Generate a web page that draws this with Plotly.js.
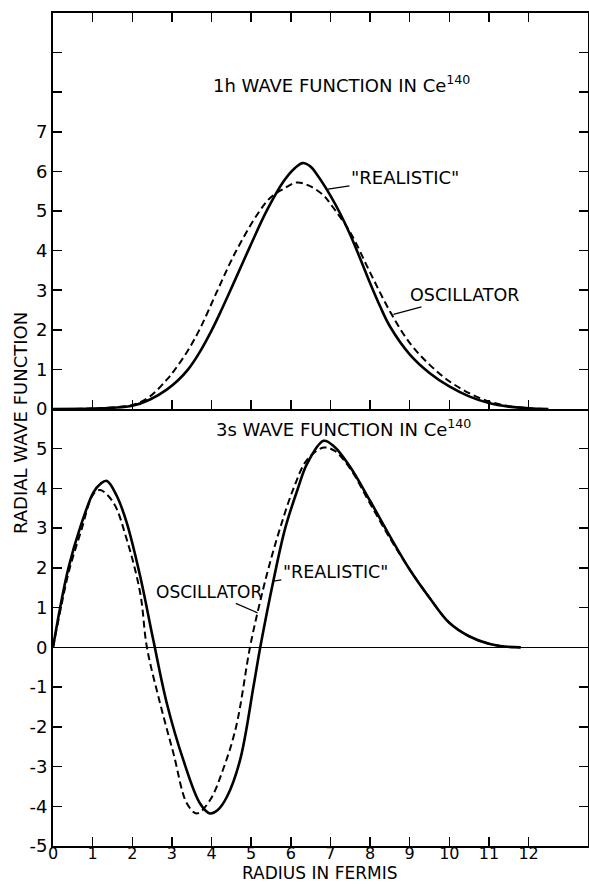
<!DOCTYPE html>
<html>
<head>
<meta charset="utf-8">
<script src="https://cdn.plot.ly/plotly-3.0.1.min.js"></script>
<style>html,body{margin:0;padding:0;background:#fff;}#chart{width:589px;height:884px;}</style>
</head>
<body>
<div id="chart"></div>
<script>
// ---- data ----
// 1h wave function, "realistic" (solid)
var r1hReal = [0, 1, 1.5, 2, 2.45, 2.87, 3.15, 3.41, 3.71, 4.0, 4.25, 4.55, 4.97, 5.4, 5.82, 6.1, 6.3, 6.5, 6.66, 7.0, 7.25, 7.5, 7.75, 8.0, 8.25, 8.5, 9.0, 9.5, 10.0, 10.5, 11.0, 11.5, 12.0, 12.5];
var v1hReal = [0, 0.01, 0.03, 0.08, 0.24, 0.49, 0.72, 1.0, 1.45, 1.98, 2.5, 3.16, 4.1, 5.02, 5.75, 6.08, 6.21, 6.12, 5.92, 5.39, 4.93, 4.4, 3.8, 3.18, 2.6, 2.09, 1.38, 0.91, 0.57, 0.32, 0.15, 0.06, 0.02, 0];
// 1h wave function, oscillator (dashed)
var r1hOsc = [0, 1, 1.5, 2.03, 2.45, 2.87, 3.08, 3.4, 3.72, 4.13, 4.6, 5.18, 5.5, 5.82, 6.15, 6.5, 6.83, 7.0, 7.5, 8.0, 8.5, 9.0, 9.5, 10.0, 10.5, 11.0, 11.5, 12.0, 12.5];
var v1hOsc = [0, 0.01, 0.04, 0.11, 0.32, 0.74, 1.0, 1.47, 2.05, 2.95, 3.95, 4.95, 5.35, 5.56, 5.72, 5.62, 5.39, 5.18, 4.46, 3.45, 2.47, 1.67, 1.12, 0.7, 0.4, 0.19, 0.07, 0.02, 0];
// 3s wave function, "realistic" (solid)
var r3sReal = [0, 0.18, 0.39, 0.68, 1.02, 1.2, 1.36, 1.61, 1.86, 2.2, 2.53, 2.87, 3.29, 3.71, 3.96, 4.15, 4.39, 4.72, 5.06, 5.23, 5.56, 5.86, 6.18, 6.41, 6.83, 7.1, 7.5, 8.0, 8.5, 9.0, 9.5, 10.0, 10.5, 11.0, 11.4, 11.8];
var v3sReal = [0, 1.0, 2.0, 3.0, 3.9, 4.12, 4.19, 3.81, 3.14, 1.79, 0.19, -1.4, -2.84, -3.93, -4.18, -4.1, -3.76, -2.84, -0.98, 0, 1.67, 3.0, 4.0, 4.62, 5.2, 5.05, 4.54, 3.69, 2.8, 1.96, 1.25, 0.62, 0.28, 0.09, 0.02, 0];
// 3s wave function, oscillator (dashed)
var r3sOsc = [0, 0.19, 0.41, 0.7, 1.02, 1.19, 1.52, 1.86, 2.2, 2.37, 2.7, 3.04, 3.38, 3.63, 3.96, 4.3, 4.62, 4.97, 5.19, 5.44, 5.73, 6.07, 6.41, 6.83, 7.1, 7.5, 8.0, 8.5, 9.0, 9.5, 10.0, 10.5, 11.0, 11.4, 11.8];
var v3sOsc = [0, 0.95, 1.95, 2.9, 3.86, 3.96, 3.65, 2.72, 1.37, 0, -1.4, -2.67, -3.93, -4.18, -3.85, -3.05, -2.0, 0, 1.0, 2.0, 3.0, 4.0, 4.72, 5.03, 4.95, 4.5, 3.62, 2.75, 1.96, 1.25, 0.62, 0.28, 0.09, 0.02, 0];

// tick labels
var xTicks = [0,1,2,3,4,5,6,7,8,9,10,11,12];
var xTickText = ["0","1","2","3","4","5","6","7","8","9","10","11","12"];
var yTopTicks = [0,1,2,3,4,5,6,7];
var yTopText = ["0","1","2","3","4","5","6","7"];
var yBotTicks = [-5,-4,-3,-2,-1,0,1,2,3,4,5];
var yBotText = ["-5","-4","-3","-2","-1","0","1","2","3","4","5"];

var F = "DejaVu Sans, sans-serif";
var solid = {color:'#000', width:2.6, shape:'spline', smoothing:1};
var dashed = {color:'#000', width:2, dash:'7px,4px', shape:'spline', smoothing:1};

var traces = [
  {x:r1hReal, y:v1hReal, xaxis:'x2', yaxis:'y2', mode:'lines', line:solid, hoverinfo:'skip'},
  {x:r1hOsc, y:v1hOsc, xaxis:'x2', yaxis:'y2', mode:'lines', line:dashed, hoverinfo:'skip'},
  {x:r3sReal, y:v3sReal, xaxis:'x', yaxis:'y', mode:'lines', line:solid, hoverinfo:'skip'},
  {x:r3sOsc, y:v3sOsc, xaxis:'x', yaxis:'y', mode:'lines', line:dashed, hoverinfo:'skip'}
];

var split = (846-409)/833;
var axCommon = {showgrid:false, showline:true, linecolor:'#000', linewidth:2, ticks:'inside', ticklen:9, tickwidth:1.5, tickcolor:'#000'};

var layout = {
  width:589, height:884,
  margin:{l:53, r:1, t:13, b:38},
  paper_bgcolor:'#fff', plot_bgcolor:'#fff',
  showlegend:false,
  font:{family:F, color:'#000'},
  xaxis: Object.assign({}, axCommon, {anchor:'y', range:[0,13.5], tickmode:'array', tickvals:xTicks, ticktext:xTickText, mirror:false, zeroline:false, ticklabelstandoff:-8, tickfont:{family:F, size:16, color:'#000'}}),
  xaxis2: Object.assign({}, axCommon, {anchor:'y2', matches:'x', range:[0,13.5], tickmode:'array', tickvals:xTicks.slice(1), showticklabels:false, mirror:'ticks', zeroline:false}),
  yaxis: Object.assign({}, axCommon, {domain:[0, split], range:[-5,6], tickmode:'array', tickvals:yBotTicks, ticktext:yBotText, mirror:'ticks', zeroline:true, zerolinecolor:'#000', zerolinewidth:1.5, tickfont:{family:F, size:18, color:'#000'}}),
  yaxis2: Object.assign({}, axCommon, {domain:[split, 1], range:[0,10], tickmode:'array', tickvals:yTopTicks, ticktext:yTopText, mirror:'ticks', zeroline:false, tickfont:{family:F, size:18, color:'#000'},
    minor:{tickmode:'linear', tick0:0, dtick:1, ticks:'inside', ticklen:9, tickwidth:1.5, tickcolor:'#000', showgrid:false}}),
  annotations:[
    {xref:'paper', yref:'paper', x:(341-53)/535, y:(884-38-84)/833, text:'1h WAVE FUNCTION IN Ce<sup>140</sup>', showarrow:false, font:{family:F, size:18, color:'#000'}, xanchor:'center', yanchor:'middle'},
    {xref:'paper', yref:'paper', x:(343-53)/535, y:(884-38-428)/833, text:'3s WAVE FUNCTION IN Ce<sup>140</sup>', showarrow:false, font:{family:F, size:18, color:'#000'}, xanchor:'center', yanchor:'middle'},
    {xref:'paper', yref:'paper', x:(20-53)/535, y:(884-38-423)/833, text:'RADIAL WAVE FUNCTION', textangle:-90, showarrow:false, font:{family:F, size:18, color:'#000'}, xanchor:'center', yanchor:'middle'},
    {xref:'paper', yref:'paper', x:(319-53)/535, y:(884-38-884)/833, text:'RADIUS IN FERMIS', showarrow:false, font:{family:F, size:17, color:'#000'}, xanchor:'center', yanchor:'bottom', borderpad:0},
    {xref:'x2', yref:'y2', x:6.94, y:5.55, text:'"REALISTIC"', showarrow:true, arrowhead:0, arrowwidth:1.3, arrowcolor:'#000', standoff:0, ax:77, ay:-12, font:{family:F, size:18, color:'#000'}},
    {xref:'x2', yref:'y2', x:8.59, y:2.39, text:'OSCILLATOR', showarrow:true, arrowhead:0, arrowwidth:1.3, arrowcolor:'#000', standoff:0, ax:71, ay:-19, font:{family:F, size:17.5, color:'#000'}},
    {xref:'x', yref:'y', x:5.16, y:0.87, text:'OSCILLATOR', showarrow:true, arrowhead:0, arrowwidth:1.3, arrowcolor:'#000', standoff:0, ax:-48, ay:-21, font:{family:F, size:17, color:'#000'}},
    {xref:'x', yref:'y', x:5.56, y:1.67, text:'"REALISTIC"', showarrow:true, arrowhead:0, arrowwidth:1.3, arrowcolor:'#000', standoff:0, ax:62, ay:-9, font:{family:F, size:17.5, color:'#000'}}
  ]
};

Plotly.newPlot('chart', traces, layout, {staticPlot:true, displayModeBar:false});
</script>
</body>
</html>
